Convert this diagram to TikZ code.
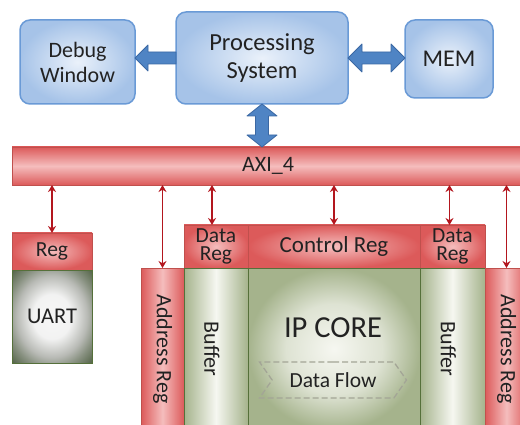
\documentclass[tikz,border=0pt]{standalone}
\usepackage{fontspec}
\setmainfont{Carlito}
\usetikzlibrary{shapes.symbols,arrows.meta,calc}
\definecolor{blueIn}{HTML}{EAF1FA}
\definecolor{blueOut}{HTML}{A6C3E8}
\definecolor{blueBd}{HTML}{6A9AD6}
\definecolor{arrFill}{HTML}{4F84C4}
\definecolor{arrBd}{HTML}{3B68A3}
\definecolor{redIn}{HTML}{F5BDBD}
\definecolor{redOut}{HTML}{DC5A5A}
\definecolor{redBd}{HTML}{C0504D}
\definecolor{greenIn}{HTML}{F6F7F1}
\definecolor{greenOut}{HTML}{A5B38C}
\definecolor{greenBd}{HTML}{55703A}
\definecolor{uartOut}{HTML}{56664A}
\definecolor{uartMid}{HTML}{B8BAB5}
\definecolor{uartIn}{HTML}{F7F7F7}
\definecolor{txt}{HTML}{222222}
\definecolor{darkred}{HTML}{B3161E}
\definecolor{flowgray}{HTML}{A3A596}
\pgfdeclareradialshading{uartshade}{\pgfpoint{0bp}{0bp}}{color(0bp)=(uartIn); color(12bp)=(uartIn!92!uartMid); color(22bp)=(uartMid); color(28bp)=(uartMid!50!uartOut); color(35bp)=(uartOut); color(50bp)=(uartOut)}
\pgfdeclareradialshading{ipshade}{\pgfpoint{0bp}{0bp}}{color(0bp)=(greenIn); color(14bp)=(greenIn!70!greenOut); color(25bp)=(greenOut); color(50bp)=(greenOut)}
\begin{document}
\begin{tikzpicture}[x=1pt,y=-1pt,
  every node/.style={inner sep=0pt,outer sep=0pt,anchor=north west,text=txt},
  bluebox/.style={rounded corners=10pt,draw=blueBd,line width=1.5pt,inner color=blueIn,outer color=blueOut,align=center,font=\fontsize{22}{25}\selectfont},
  redbox/.style={draw=redBd,line width=0.8pt,inner color=redIn,outer color=redOut,align=center,font=\fontsize{21.5}{17.5}\selectfont},
  redvbar/.style={draw=redBd,line width=0.8pt,left color=redOut,right color=redOut,middle color=redIn},
  greenvbar/.style={draw=greenBd,line width=0.8pt,left color=greenOut,right color=greenOut,middle color=greenIn},
  vlabel/.style={rotate=-90,anchor=center,font=\fontsize{22}{25}\selectfont,text=txt},
  bluearrow/.style={fill=arrFill,draw=arrBd,line width=0.8pt,line join=round},
  redarrow/.style={draw=darkred,line width=1.6pt,{Stealth[length=7pt,width=8pt]}-{Stealth[length=7pt,width=8pt]}}
]
\useasboundingbox (0,0) rectangle (520,425);
% top blue boxes
\node[bluebox,minimum width=115pt,minimum height=84pt] (dbg) at (20,20) {Debug\\Window};
\node[bluebox,minimum width=172pt,minimum height=92pt,font=\fontsize{24.5}{28}\selectfont] (ps) at (176,12) {Processing\\System};
\node[bluebox,minimum width=88pt,minimum height=78pt,font=\fontsize{24}{28}\selectfont] (mem) at (405,20) {MEM};
% AXI bus
\node[draw=redBd,line width=0.8pt,top color=redOut,bottom color=redOut,middle color=redIn,minimum width=512pt,minimum height=38pt,font=\fontsize{22}{24}\selectfont] (axi) at (12,147) {AXI\_4};
% UART
\node[redbox,minimum width=80pt,minimum height=37pt] (reg) at (12,233) {Reg};
\node[draw=greenBd,line width=0.8pt,shading=uartshade,minimum width=80pt,minimum height=93pt,font=\fontsize{22.5}{25}\selectfont] (uart) at (12,270) {UART};
% IP block
\node[redvbar,minimum width=43pt,minimum height=162pt,label={[vlabel,name=addrLt]center:Address Reg}] (addrL) at (141,268) {};
\node[redbox,minimum width=64pt,minimum height=43pt] (dregL) at (184,225) {Data\\Reg};
\node[greenvbar,minimum width=64pt,minimum height=162pt,label={[vlabel,name=bufLt,yshift=-4pt]center:Buffer}] (bufL) at (184,268) {};
\node[redbox,minimum width=172pt,minimum height=43pt,font=\fontsize{23}{25}\selectfont] (ctrl) at (248,225) {Control Reg};
\node[draw=greenBd,line width=0.8pt,shading=ipshade,minimum width=172pt,minimum height=162pt] (ip) at (248,268) {};
\node[anchor=center,font=\fontsize{30.5}{32}\selectfont] (iptext) at (333,328) {IP CORE};
\node[signal,signal to=east,signal from=west,signal pointer angle=110,draw=flowgray,dashed,dash pattern=on 6pt off 3pt,line width=1.3pt,minimum width=147pt,minimum height=36pt,anchor=center,font=\fontsize{21.5}{24}\selectfont] (flow) at (333,380) {Data Flow};
\node[redbox,minimum width=65pt,minimum height=43pt] (dregR) at (420,225) {Data\\Reg};
\node[greenvbar,minimum width=65pt,minimum height=162pt,label={[vlabel,name=bufRt,yshift=-4pt]center:Buffer}] (bufR) at (420,268) {};
\node[redvbar,minimum width=43pt,minimum height=162pt,label={[vlabel,name=addrRt]center:Address Reg}] (addrR) at (485,268) {};
% blue arrows
\coordinate (t1) at (dbg.east |- ps.west);
\draw[bluearrow] (t1) -- ++(13,-13) -- ++(0,7) -- ($(ps.west)+(0,-6)$) -- ($(ps.west)+(0,6)$) -- ($(t1)+(13,6)$) -- ($(t1)+(13,13)$) -- cycle;
\coordinate (l2) at (ps.east);
\coordinate (r2) at (mem.west |- ps.east);
\draw[bluearrow] (l2) -- ($(l2)+(14,-14)$) -- ($(l2)+(14,-6)$) -- ($(r2)+(-14,-6)$) -- ($(r2)+(-14,-14)$) -- (r2) -- ($(r2)+(-14,14)$) -- ($(r2)+(-14,6)$) -- ($(l2)+(14,6)$) -- ($(l2)+(14,14)$) -- cycle;
\coordinate (t3) at (ps.south);
\coordinate (b3) at (ps.south |- axi.north);
\draw[bluearrow] (t3) -- ($(t3)+(15,12)$) -- ($(t3)+(6.5,12)$) -- ($(b3)+(6.5,-12)$) -- ($(b3)+(15,-12)$) -- (b3) -- ($(b3)+(-15,-12)$) -- ($(b3)+(-6.5,-12)$) -- ($(t3)+(-6.5,12)$) -- ($(t3)+(-15,12)$) -- cycle;
% red arrows
\draw[redarrow] (axi.south -| reg.north) -- (reg.north);
\draw[redarrow] (axi.south -| addrL.north) -- (addrL.north);
\draw[redarrow] ($(axi.south -| dregL.north)+(-4,0)$) -- ($(dregL.north)+(-4,0)$);
\draw[redarrow] (axi.south -| ctrl.north) -- (ctrl.north);
\draw[redarrow] ($(axi.south -| dregR.north)+(-3,0)$) -- ($(dregR.north)+(-3,0)$);
\draw[redarrow] (axi.south -| addrR.north) -- (addrR.north);
\end{tikzpicture}
\end{document}
